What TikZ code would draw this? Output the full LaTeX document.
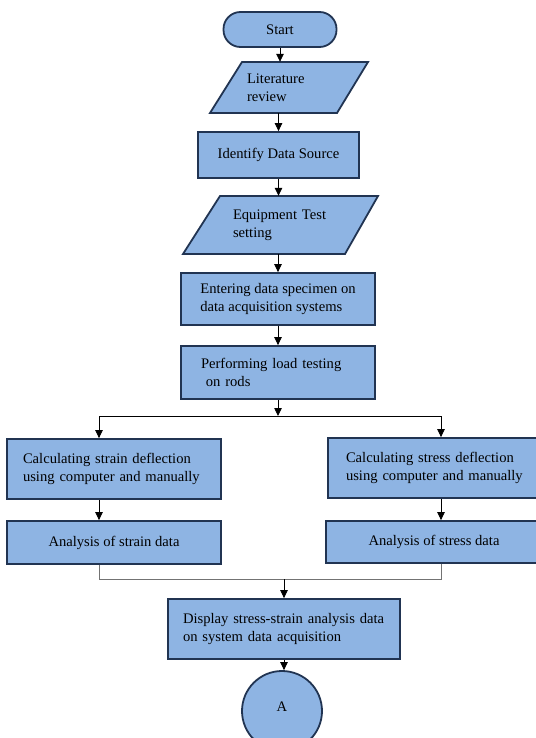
\documentclass[tikz,border=0pt]{standalone}
\usepackage{fontspec}
\setmainfont{Liberation Serif}
\usetikzlibrary{arrows.meta,calc}
\definecolor{boxfill}{RGB}{142,180,227}
\definecolor{boxline}{RGB}{33,52,82}
\tikzset{
	box/.style={draw=boxline, fill=boxfill, line width=1.8pt, inner sep=0pt, font=\fontsize{14.6}{17.5}\selectfont},
	para/.style={draw=boxline, fill=boxfill, line width=1.8pt, line join=miter},
	txt/.style={inner sep=0pt, font=\fontsize{14.6}{17.5}\selectfont},
	arr/.style={-{Triangle[length=8pt,width=7.5pt]}, line width=0.8pt},
	merge/.style={line width=0.8pt, draw=black!55},
}

\begin{document}
\begin{tikzpicture}[x=1pt, y=-1pt]
			%%%%% START %%%%%
			\useasboundingbox (0,0) rectangle (535,738);
			
			\node[box, rounded corners=17pt, minimum width=113pt, minimum height=35pt] (start) at (280,29.5) {Start};
			
			\draw[para] (242,62) -- (368,62) -- (337,113) -- (210,113) -- cycle;
			\node[txt, minimum height=51pt, text width=84pt, align=left] (lit) at (289,87.5) {Literature\\review};
			
			\node[box, minimum width=161pt, minimum height=46pt] (iden) at (278.5,155) {Identify Data Source};
			
			\draw[para] (220,196) -- (378,196) -- (345,254) -- (183,254) -- cycle;
			\node[txt, minimum height=58pt, text width=97pt, align=left] (equip) at (281.5,225) {Equipment Test\\setting};
			
			\node[box, minimum width=194pt, minimum height=52pt, align=left] (enter) at (278,299) {Entering data specimen on\\data acquisition systems};
			\node[box, minimum width=194pt, minimum height=53pt, text width=154pt, align=left] (perf) at (278,372.5) {Performing load testing\\~on rods};
			
			\coordinate (brL) at (99,416);
			\coordinate (brR) at (441,416);
			
			\node[box, minimum width=213.5pt, minimum height=60pt, text width=182pt, align=left] (calcL) at (114,469) {Calculating strain deflection\\using computer and manually};
			\node[box, minimum width=217pt, minimum height=60pt, text width=181pt, align=left] (calcR) at (436.5,468) {Calculating stress deflection\\using computer and manually};
			
			\node[box, minimum width=213.5pt, minimum height=43pt] (anaL) at (114,542.5) {Analysis of strain data};
			\node[box, minimum width=216pt, minimum height=42pt] (anaR) at (434,542) {Analysis of stress data};
			
			\coordinate (mgL) at (99,579);
			\coordinate (mgR) at (441,579);
			
			\node[box, minimum width=232pt, minimum height=60pt, text width=202pt, align=left] (disp) at (284,629) {Display stress-strain analysis data\\on system data acquisition};
			
			\node[box, circle, minimum size=80pt] (conA) at (282,711) {\raisebox{9pt}{A}};
			
			\draw[arr] (start.south) -- (start.south |- lit.north);
			\draw[arr] (iden.north |- lit.south) -- (iden.north);
			\draw[arr] (iden.south) -- (iden.south |- equip.north);
			\draw[arr] (enter.north |- equip.south) -- (enter.north);
			\draw[arr] (enter) -- (perf);
			\draw[arr] (perf.south) -- (perf.south |- brL);
			\draw[line width=0.8pt] (brL) -- (brR);
			\draw[arr] (brL) -- (brL |- calcL.north);
			\draw[arr] (brR) -- (brR |- calcR.north);
			\draw[arr] (brL |- calcL.south) -- (brL |- anaL.north);
			\draw[arr] (brR |- calcR.south) -- (brR |- anaR.north);
			\draw[merge] (brL |- anaL.south) -- (mgL) -- (mgR) -- (mgR |- anaR.south);
			\draw[arr] (disp.north |- mgL) -- (disp.north);
			\draw[arr] (disp.south) -- (disp.south |- conA.north);
			
			%%%%% END %%%%%
\end{tikzpicture}
\end{document}
